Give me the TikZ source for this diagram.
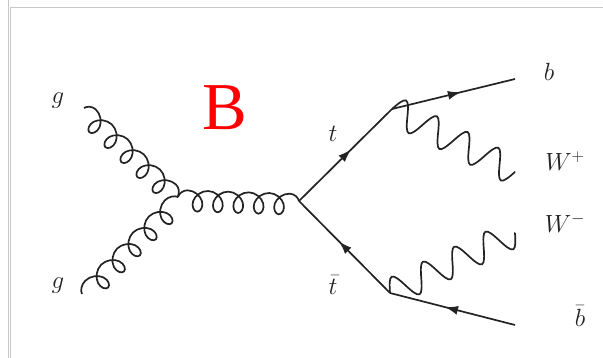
\documentclass[tikz,border=0pt]{standalone}
\usepackage{xcolor}
\usepackage{fontspec}
\setmainfont{Liberation Serif}
\usepackage{tikz}
\usetikzlibrary{arrows.meta,decorations,decorations.markings}
\definecolor{framegray}{RGB}{200,200,200}
\definecolor{linegray}{RGB}{35,35,35}
% five curled loops, hanging to the right of the path
\def\gluonlead{9.5pt}
\def\gluonb{9.5pt}
\def\gluonA{10.5pt}
\def\gluonh{7pt}
\pgfdeclaredecoration{gluonline}{lead}{
  \state{lead}[width=\gluonlead,next state=loop]{
    \pgfpathcurveto{\pgfpoint{0.1*\gluonlead}{0.5*\gluonh}}{\pgfpoint{0.5*\gluonlead}{\gluonh}}{\pgfpoint{\gluonlead}{\gluonh}}
  }
  \state{loop}[width={(\pgfdecoratedpathlength-2*\gluonlead)/5-0.01pt}]{
    \pgfmathsetlengthmacro\gL{(\pgfdecoratedpathlength-2*\gluonlead)/5}
    \pgfmathsetlengthmacro\gc{\gL/12}
    \pgfmathsetlengthmacro\gB{0.5236*\gluonb}
    \pgfmathsetlengthmacro\gY{0.5236*\gluonA}
    \pgfmathsetlengthmacro\gm{\gluonh-\gluonA}
    \pgfmathsetlengthmacro\gd{\gluonh-2*\gluonA}
    \pgfpathcurveto{\pgfpoint{\gc+\gB}{\gluonh}}{\pgfpoint{\gL/4+\gluonb-\gc}{\gm+\gY}}{\pgfpoint{\gL/4+\gluonb}{\gm}}
    \pgfpathcurveto{\pgfpoint{\gL/4+\gluonb+\gc}{\gm-\gY}}{\pgfpoint{\gL/2-\gc+\gB}{\gd}}{\pgfpoint{\gL/2}{\gd}}
    \pgfpathcurveto{\pgfpoint{\gL/2+\gc-\gB}{\gd}}{\pgfpoint{3*\gL/4-\gluonb-\gc}{\gm-\gY}}{\pgfpoint{3*\gL/4-\gluonb}{\gm}}
    \pgfpathcurveto{\pgfpoint{3*\gL/4-\gluonb+\gc}{\gm+\gY}}{\pgfpoint{\gL-\gc-\gB}{\gluonh}}{\pgfpoint{\gL}{\gluonh}}
  }
  \state{final}{
    \pgfpathcurveto{\pgfpoint{0.5*\gluonlead}{\gluonh}}{\pgfpoint{0.9*\gluonlead}{0.5*\gluonh}}{\pgfpointdecoratedpathlast}
  }
}
% four sine periods
\pgfdeclaredecoration{wline}{wave}{
  \state{wave}[width={\pgfdecoratedpathlength/4-0.01pt}]{
    \pgfmathsetlengthmacro\wL{\pgfdecoratedpathlength/4}
    \pgfmathsetlengthmacro\wc{\wL/12}
    \pgfmathsetlengthmacro\wA{14pt}
    \pgfmathsetlengthmacro\wY{0.5236*\wA}
    \pgfpathcurveto{\pgfpoint{\wc}{\wY}}{\pgfpoint{\wL/4-\wc}{\wA}}{\pgfpoint{\wL/4}{\wA}}
    \pgfpathcurveto{\pgfpoint{\wL/4+\wc}{\wA}}{\pgfpoint{\wL/2-\wc}{\wY}}{\pgfpoint{\wL/2}{0pt}}
    \pgfpathcurveto{\pgfpoint{\wL/2+\wc}{-\wY}}{\pgfpoint{3*\wL/4-\wc}{-\wA}}{\pgfpoint{3*\wL/4}{-\wA}}
    \pgfpathcurveto{\pgfpoint{3*\wL/4+\wc}{-\wA}}{\pgfpoint{\wL-\wc}{-\wY}}{\pgfpoint{\wL}{0pt}}
  }
  \state{final}{\pgfpathlineto{\pgfpointdecoratedpathlast}}
}
\tikzset{
  partlabel/.style={
    text=linegray,
    inner sep=0pt,
    font=\fontsize{27}{27}\selectfont
  },
  panellabel/.style={
    text=red,
    inner sep=0pt,
    font=\fontsize{67}{67}\selectfont
  },
  gluon/.style={
    draw=linegray,line width=1.7pt,
    /utils/exec={\def\gluonlead{#1}},
    decorate,decoration={gluonline}
  },
  gluon/.default=9.5pt,
  wboson/.style={
    draw=linegray,line width=1.7pt,
    decorate,decoration={wline}
  },
  fermion/.style={
    draw=linegray,line width=1.7pt,
    postaction={decorate},
    decoration={markings,mark=at position 0.56 with {\arrow{Latex[length=13pt,width=9pt]}}}
  }
}
\begin{document}
\begin{tikzpicture}[x=1pt,y=-1pt]
\useasboundingbox (0,0) rectangle (603,358);
\draw[framegray,line width=0.8pt] (8,0)--(8,358);
\draw[framegray,line width=0.8pt] (10.5,358)--(10.5,7.5)--(603,7.5);
\coordinate (gtop) at (84,108);
\coordinate (gbot) at (82,294);
\coordinate (ggtop) at (178,196);
\coordinate (ggbot) at (178,197);
\coordinate (ggv) at (178,197);
\coordinate (ttv) at (299,201);
\coordinate (tv) at (392,109);
\coordinate (tbv) at (390,293);
\coordinate (bend) at (515,79);
\coordinate (wpend) at (515,172);
\coordinate (wmend) at (515,233);
\coordinate (bbend) at (515,325);
\node[partlabel] (glabtop) at (58,101) {$g$};
\node[partlabel] (glabbot) at (58,286) {$g$};
\node[panellabel] (panel) at (225,108) {B};
\node[partlabel] (tlab) at (333,134) {$t$};
\node[partlabel] (tblab) at (333,285) {$\bar t$};
\node[partlabel] (blab) at (549,72) {$b$};
\node[partlabel] (wplab) at (565,161) {$W^+$};
\node[partlabel] (wmlab) at (565,223) {$W^-$};
\node[partlabel] (bblab) at (580,316) {$\bar b$};
\draw[gluon] (gtop)--(ggtop);
\draw[gluon=11.7pt] (gbot)--(ggbot);
\draw[gluon] (ggv)--(ttv);
\draw[fermion] (ttv)--(tv);
\draw[fermion] (tv)--(bend);
\draw[fermion] (tbv)--(ttv);
\draw[fermion] (bbend)--(tbv);
\draw[wboson] (tv)--(wpend);
\draw[wboson] (tbv)--(wmend);
\end{tikzpicture}
\end{document}
